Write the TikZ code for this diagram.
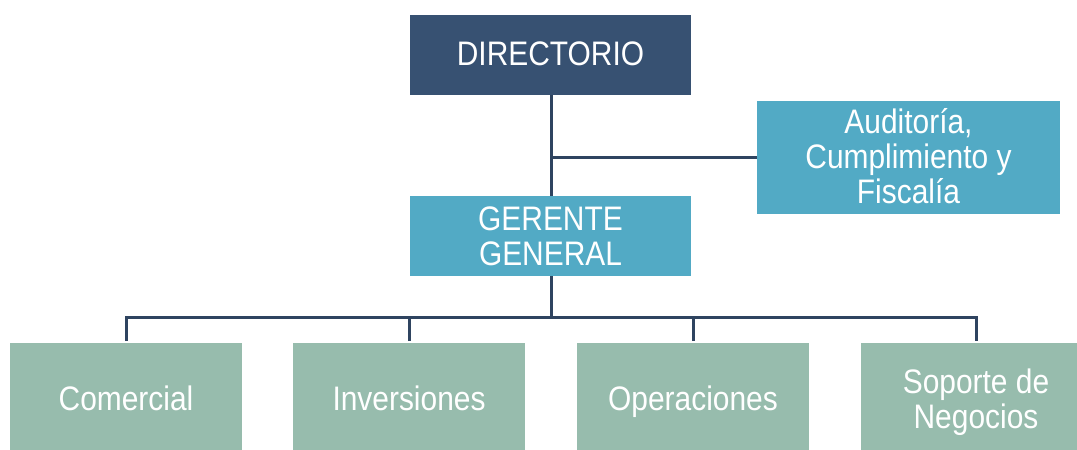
\documentclass[tikz,border=0pt]{standalone}
\usepackage{fontspec}
\setmainfont{Liberation Sans}[FakeStretch=0.88]
\definecolor{navy}{HTML}{375172}
\definecolor{aqua}{HTML}{52AAC5}
\definecolor{sage}{HTML}{97BCAD}
\definecolor{linec}{HTML}{2F4460}
\tikzset{
  box/.style={draw=none, text=white, align=center, inner sep=0pt,
    font=\fontsize{34}{35}\selectfont},
  conn/.style={draw=linec, line width=3pt}
}
\begin{document}
\begin{tikzpicture}[x=1pt,y=-1pt]
\useasboundingbox (0,0) rectangle (1077,450);
% boxes
\fill[navy] (410,15) rectangle (691,95);
\node[box, anchor=base] (dir) at (550.5,65) {DIRECTORIO};
\coordinate (dirB) at (551,95);
\fill[aqua] (757,101) rectangle (1060,214);
\node[box] (aud) at (908.5,156) {Auditoría,\\Cumplimiento y\\Fiscalía};
\coordinate (audL) at (757,157);
\fill[aqua] (410,196) rectangle (691,276);
\node[box] (gg) at (550.5,236) {GERENTE\\GENERAL};
\coordinate (ggT) at (551,196);
\coordinate (ggB) at (551,276);
\fill[sage] (10,343) rectangle (242,450);
\fill[sage] (293,343) rectangle (525,450);
\fill[sage] (577,343) rectangle (809,450);
\fill[sage] (861,343) rectangle (1077,450);
\node[box, anchor=base] (com) at (126,410) {Comercial};
\node[box, anchor=base] (inv) at (409,410) {Inversiones};
\node[box, anchor=base] (ope) at (693,410) {Operaciones};
\node[box] (sop) at (976,402) {Soporte de\\Negocios};
\coordinate (comT) at (126,341);
\coordinate (invT) at (409,341);
\coordinate (opeT) at (693,341);
\coordinate (sopT) at (976,341);
\coordinate (hub) at (551,157);
\coordinate (bus) at (551,317);
% connectors
\draw[conn] (dirB) -- (ggT);
\draw[conn] (hub) -- (audL);
\draw[conn] (ggB) -- (bus);
\draw[conn] (comT) |- (bus) -| (sopT);
\draw[conn] (invT) -- (invT |- bus);
\draw[conn] (opeT) -- (opeT |- bus);
\end{tikzpicture}
\end{document}
